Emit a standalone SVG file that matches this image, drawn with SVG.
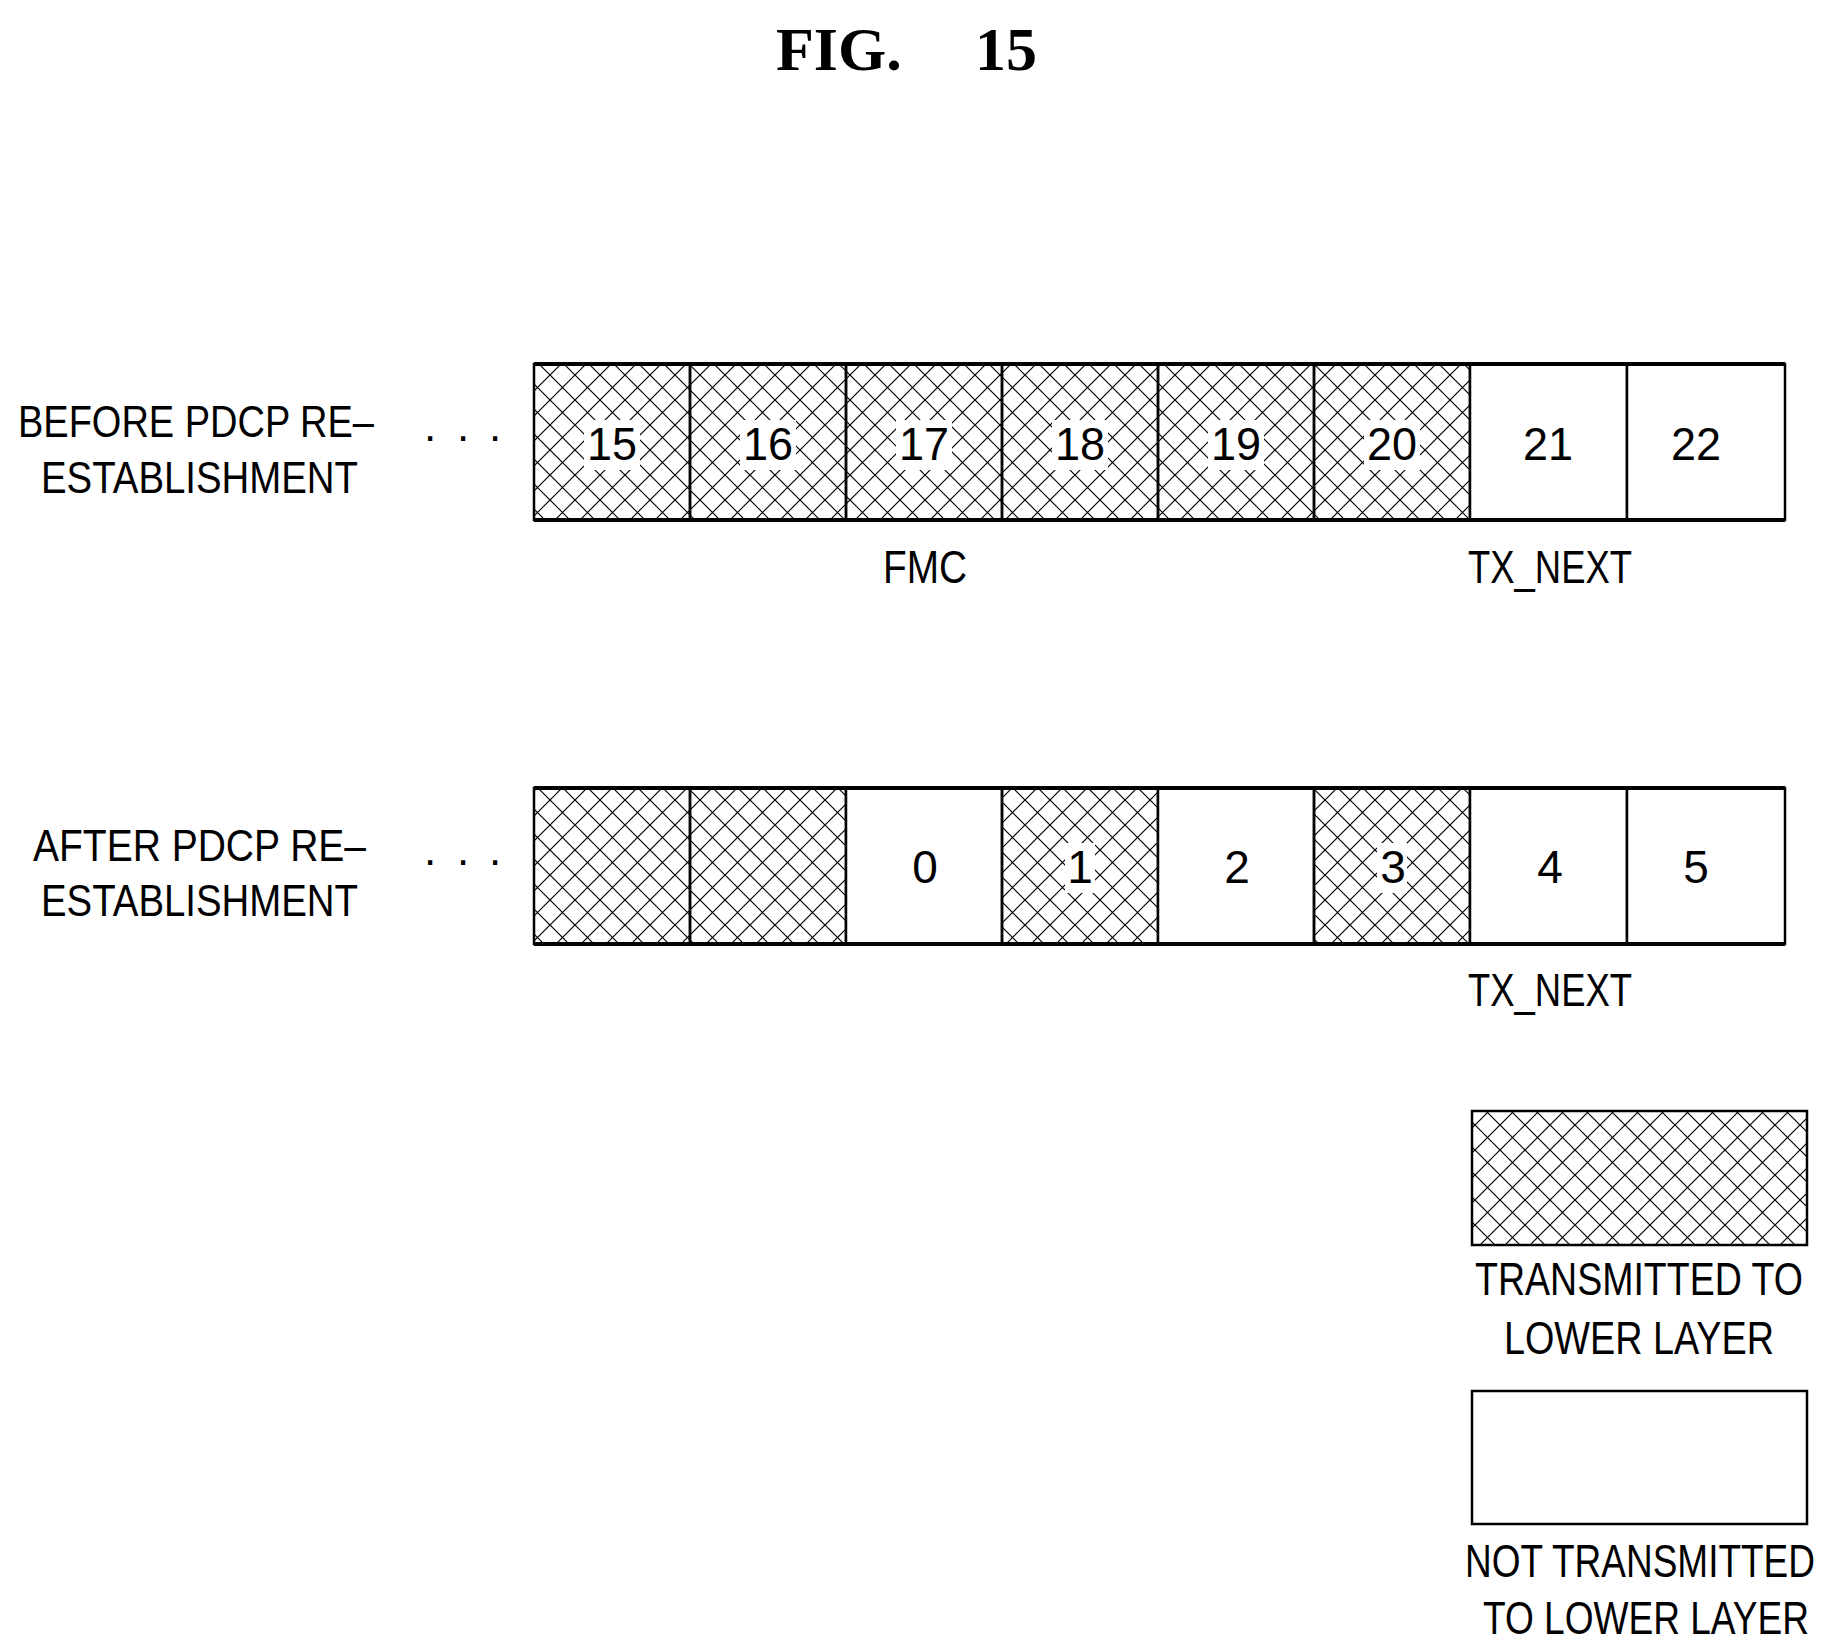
<svg xmlns="http://www.w3.org/2000/svg" width="1832" height="1649" viewBox="0 0 1832 1649">
<defs>
<pattern id="hatch" width="25" height="25" patternUnits="userSpaceOnUse">
<path d="M0,0 L25,25 M25,0 L0,25" stroke="#000" stroke-width="1.2" fill="none"/>
</pattern>
<style>
.t{font-family:"Liberation Sans",Arial,sans-serif;font-size:44px;fill:#000}
.n{font-family:"Liberation Sans",Arial,sans-serif;font-size:46px;fill:#000;text-anchor:middle}
.ti{font-family:"Liberation Serif",serif;font-weight:bold;font-size:62px;fill:#000}
.h{fill:url(#hatch);stroke:#000;stroke-width:2.5}
.w{fill:#fff;stroke:#000;stroke-width:2.5}
.lab{fill:#fff}
</style>
</defs>
<rect width="1832" height="1649" fill="#fff"/>
<text class="ti" x="776" y="70">FIG.</text>
<text class="ti" x="975" y="70">15</text>
<g id="row-before">
<text class="t" x="18" y="437" textLength="356" lengthAdjust="spacingAndGlyphs">BEFORE PDCP RE–</text>
<text class="t" x="41" y="493" textLength="317" lengthAdjust="spacingAndGlyphs">ESTABLISHMENT</text>
<text class="t" x="424" y="441">.</text><text class="t" x="457" y="441">.</text><text class="t" x="489" y="441">.</text>
<rect class="h" x="534" y="364" width="156" height="156"/>
<rect class="h" x="690" y="364" width="156" height="156"/>
<rect class="h" x="846" y="364" width="156" height="156"/>
<rect class="h" x="1002" y="364" width="156" height="156"/>
<rect class="h" x="1158" y="364" width="156" height="156"/>
<rect class="h" x="1314" y="364" width="156" height="156"/>
<rect class="w" x="1470" y="364" width="157" height="156"/>
<rect class="w" x="1627" y="364" width="158" height="156"/>
<path d="M534,364 H1785 M534,520 H1785" stroke="#000" stroke-width="4"/>
<g class="lab"><rect x="584" y="420" width="56" height="50"/><rect x="740" y="420" width="56" height="50"/><rect x="896" y="420" width="56" height="50"/><rect x="1052" y="420" width="56" height="50"/><rect x="1208" y="420" width="56" height="50"/><rect x="1364" y="420" width="56" height="50"/></g>
<text class="n" x="612" y="460" textLength="50" lengthAdjust="spacingAndGlyphs">15</text>
<text class="n" x="768" y="460" textLength="50" lengthAdjust="spacingAndGlyphs">16</text>
<text class="n" x="924" y="460" textLength="50" lengthAdjust="spacingAndGlyphs">17</text>
<text class="n" x="1080" y="460" textLength="50" lengthAdjust="spacingAndGlyphs">18</text>
<text class="n" x="1236" y="460" textLength="50" lengthAdjust="spacingAndGlyphs">19</text>
<text class="n" x="1392" y="460" textLength="50" lengthAdjust="spacingAndGlyphs">20</text>
<text class="n" x="1548" y="460" textLength="50" lengthAdjust="spacingAndGlyphs">21</text>
<text class="n" x="1696" y="460" textLength="50" lengthAdjust="spacingAndGlyphs">22</text>
<text class="n" x="925" y="583" textLength="84" lengthAdjust="spacingAndGlyphs">FMC</text>
<text class="n" x="1550" y="583" textLength="164" lengthAdjust="spacingAndGlyphs">TX_NEXT</text>
</g>
<g id="row-after">
<text class="t" x="33" y="861" textLength="333" lengthAdjust="spacingAndGlyphs">AFTER PDCP RE–</text>
<text class="t" x="41" y="916" textLength="317" lengthAdjust="spacingAndGlyphs">ESTABLISHMENT</text>
<text class="t" x="424" y="865">.</text><text class="t" x="457" y="865">.</text><text class="t" x="489" y="865">.</text>
<rect class="h" x="534" y="788" width="156" height="156"/>
<rect class="h" x="690" y="788" width="156" height="156"/>
<rect class="w" x="846" y="788" width="156" height="156"/>
<rect class="h" x="1002" y="788" width="156" height="156"/>
<rect class="w" x="1158" y="788" width="156" height="156"/>
<rect class="h" x="1314" y="788" width="156" height="156"/>
<rect class="w" x="1470" y="788" width="157" height="156"/>
<rect class="w" x="1627" y="788" width="158" height="156"/>
<path d="M534,788 H1785 M534,944 H1785" stroke="#000" stroke-width="4"/>
<g class="lab"><rect x="1065" y="843" width="30" height="50"/><rect x="1377" y="843" width="30" height="50"/></g>
<text class="n" x="925" y="883">0</text>
<text class="n" x="1080" y="883">1</text>
<text class="n" x="1237" y="883">2</text>
<text class="n" x="1393" y="883">3</text>
<text class="n" x="1550" y="883">4</text>
<text class="n" x="1696" y="883">5</text>
<text class="n" x="1550" y="1006" textLength="164" lengthAdjust="spacingAndGlyphs">TX_NEXT</text>
</g>
<g id="legend">
<rect class="h" x="1472" y="1111" width="335" height="134"/>
<text class="n" x="1639" y="1295" textLength="328" lengthAdjust="spacingAndGlyphs">TRANSMITTED TO</text>
<text class="n" x="1639" y="1354" textLength="270" lengthAdjust="spacingAndGlyphs">LOWER LAYER</text>
<rect class="w" x="1472" y="1391" width="335" height="133"/>
<text class="n" x="1640" y="1577" textLength="350" lengthAdjust="spacingAndGlyphs">NOT TRANSMITTED</text>
<text class="n" x="1646" y="1634" textLength="326" lengthAdjust="spacingAndGlyphs">TO LOWER LAYER</text>
</g>
</svg>
